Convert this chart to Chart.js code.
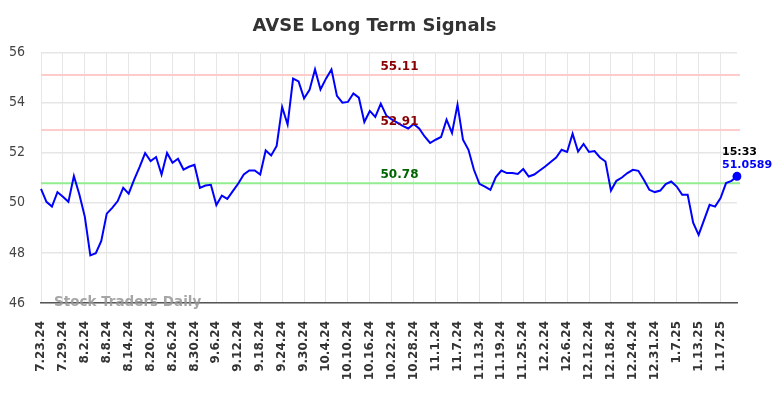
<!DOCTYPE html>
<html>
<head>
<meta charset="utf-8">
<script src="https://cdn.jsdelivr.net/npm/chart.js@4"></script>
<style>
  html, body { margin: 0; padding: 0; background: #ffffff; }
  #wrap { width: 784px; height: 398px; }
</style>
</head>
<body>
<div id="wrap"><canvas id="c" width="784" height="398"></canvas></div>
<script>
const chartTitle = "AVSE Long Term Signals";
const dates = [
  "7.23.24","7.24.24","7.25.24","7.26.24","7.29.24","7.30.24","7.31.24","8.1.24","8.2.24","8.5.24","8.6.24","8.7.24",
  "8.8.24","8.9.24","8.12.24","8.13.24","8.14.24","8.15.24","8.16.24","8.19.24","8.20.24","8.21.24","8.22.24","8.23.24",
  "8.26.24","8.27.24","8.28.24","8.29.24","8.30.24","9.3.24","9.4.24","9.5.24","9.6.24","9.9.24","9.10.24","9.11.24",
  "9.12.24","9.13.24","9.16.24","9.17.24","9.18.24","9.19.24","9.20.24","9.23.24","9.24.24","9.25.24","9.26.24","9.27.24",
  "9.30.24","10.1.24","10.2.24","10.3.24","10.4.24","10.7.24","10.8.24","10.9.24","10.10.24","10.11.24","10.14.24","10.15.24",
  "10.16.24","10.17.24","10.18.24","10.21.24","10.22.24","10.23.24","10.24.24","10.25.24","10.28.24","10.29.24","10.30.24","10.31.24",
  "11.1.24","11.4.24","11.5.24","11.6.24","11.7.24","11.8.24","11.11.24","11.12.24","11.13.24","11.14.24","11.15.24","11.18.24",
  "11.19.24","11.20.24","11.21.24","11.22.24","11.25.24","11.26.24","11.27.24","11.29.24","12.2.24","12.3.24","12.4.24","12.5.24",
  "12.6.24","12.9.24","12.10.24","12.11.24","12.12.24","12.13.24","12.16.24","12.17.24","12.18.24","12.19.24","12.20.24","12.23.24",
  "12.24.24","12.26.24","12.27.24","12.30.24","12.31.24","1.2.25","1.3.25","1.6.25","1.7.25","1.8.25","1.9.25","1.10.25",
  "1.13.25","1.14.25","1.15.25","1.16.25","1.17.25","1.21.25","1.22.25","1.23.25"
];
const prices = [
  50.56,50.04,49.85,50.43,50.24,50.04,51.07,50.33,49.44,47.90,47.99,48.48,
  49.57,49.80,50.07,50.60,50.37,50.93,51.44,51.99,51.67,51.83,51.13,51.99,
  51.60,51.76,51.33,51.44,51.52,50.60,50.69,50.72,49.91,50.29,50.16,50.47,
  50.77,51.13,51.29,51.29,51.13,52.09,51.89,52.27,53.83,53.13,54.96,54.85,
  54.17,54.51,55.33,54.53,54.96,55.33,54.27,54.00,54.03,54.37,54.20,53.23,
  53.67,53.43,53.96,53.49,53.33,53.20,53.07,52.97,53.15,52.97,52.65,52.39,
  52.52,52.63,53.32,52.79,53.92,52.52,52.12,51.32,50.76,50.65,50.52,51.03,
  51.29,51.19,51.19,51.15,51.35,51.05,51.13,51.29,51.45,51.63,51.81,52.12,
  52.03,52.76,52.05,52.35,52.03,52.07,51.81,51.65,50.49,50.88,51.01,51.19,
  51.32,51.28,50.92,50.52,50.43,50.49,50.75,50.85,50.65,50.32,50.32,49.21,
  48.72,49.32,49.92,49.85,50.19,50.79,50.88,51.0589
];
const tickLabels = [
  "7.23.24","7.29.24","8.2.24","8.8.24","8.14.24","8.20.24","8.26.24","8.30.24","9.6.24","9.12.24","9.18.24","9.24.24",
  "9.30.24","10.4.24","10.10.24","10.16.24","10.22.24","10.28.24","11.1.24","11.7.24","11.13.24","11.19.24","11.25.24","12.2.24",
  "12.6.24","12.12.24","12.18.24","12.24.24","12.31.24","1.7.25","1.13.25","1.17.25"
];
const yTicks = [46, 48, 50, 52, 54, 56];
const signalLevels = [55.11, 52.91, 50.78];
const signalLabels = ["55.11", "52.91", "50.78"];
const signalLineColors = ["#ffcccc", "#ffcccc", "#90ee90"];
const signalTextColors = ["#8b0000", "#8b0000", "#006400"];
const lastTime = "15:33";
const lastValueText = "51.0589";
const watermark = "Stock Traders Daily";

const overlayPlugin = {
  id: "overlay",
  afterLayout(chart) {
    if (chart.titleBlock) chart.titleBlock.left += 12;
  },
  beforeDatasetsDraw(chart) {
    const ctx = chart.ctx;
    const area = chart.chartArea;
    const y = chart.scales.y;
    ctx.save();
    signalLevels.forEach((v, i) => {
      const py = y.getPixelForValue(v);
      ctx.strokeStyle = signalLineColors[i];
      ctx.lineWidth = 2;
      ctx.beginPath();
      ctx.moveTo(area.left, py);
      ctx.lineTo(area.right + 3, py);
      ctx.stroke();
    });
    ctx.restore();
  },
  afterDatasetsDraw(chart) {
    const ctx = chart.ctx;
    const area = chart.chartArea;
    const x = chart.scales.x;
    const y = chart.scales.y;
    ctx.save();
    ctx.font = "bold 12px 'DejaVu Sans'";
    ctx.textAlign = "center";
    ctx.textBaseline = "middle";
    signalLevels.forEach((v, i) => {
      const py = y.getPixelForValue(v);
      ctx.fillStyle = signalTextColors[i];
      ctx.fillText(signalLabels[i], 399.5, py - 8);
    });
    const li = prices.length - 1;
    const px = x.getPixelForValue(li);
    const py = y.getPixelForValue(prices[li]);
    ctx.textAlign = "left";
    ctx.font = "bold 11px 'DejaVu Sans'";
    ctx.fillStyle = "#000000";
    ctx.fillText(lastTime, px - 15, py - 24);
    ctx.fillStyle = "#0000ff";
    ctx.fillText(lastValueText, px - 15, py - 11);
    ctx.font = "bold 13.5px 'DejaVu Sans'";
    ctx.fillStyle = "rgba(150,150,150,0.85)";
    ctx.fillText(watermark, 54, area.bottom - 1);
    ctx.restore();
  }
};

new Chart(document.getElementById("c"), {
  type: "line",
  data: {
    labels: dates,
    datasets: [{
      data: prices,
      borderColor: "#0000ff",
      backgroundColor: "#0000ff",
      borderWidth: 2,
      tension: 0,
      fill: false,
      pointRadius: prices.map((v, i) => i === prices.length - 1 ? 4.5 : 0),
      pointHoverRadius: 0,
      pointBackgroundColor: "#0000ff",
      pointBorderWidth: 0
    }]
  },
  options: {
    responsive: false,
    animation: false,
    devicePixelRatio: 1,
    layout: { padding: { left: 0, right: 47, top: 0, bottom: 19 } },
    plugins: {
      legend: { display: false },
      tooltip: { enabled: false },
      title: {
        display: true,
        text: chartTitle,
        color: "#333333",
        font: { family: "'DejaVu Sans'", size: 18, weight: "bold" },
        padding: { top: 16, bottom: 15 }
      }
    },
    scales: {
      x: {
        type: "category",
        offset: false,
        afterFit(scale) { scale.height = 76; },
        grid: { color: "#e6e6e6", lineWidth: 1, drawTicks: false },
        border: { display: true, color: "#555555", width: 1.5 },
        ticks: {
          autoSkip: false,
          minRotation: 90,
          maxRotation: 90,
          padding: 18,
          color: "#333333",
          font: { family: "'DejaVu Sans'", size: 12, weight: "bold" },
          callback: function(value, index) {
            const lab = dates[index];
            return tickLabels.includes(lab) ? lab : null;
          }
        }
      },
      y: {
        min: yTicks[0],
        max: yTicks[yTicks.length - 1],
        afterFit(scale) { scale.width = 41; },
        afterBuildTicks(scale) { scale.ticks = yTicks.map(v => ({ value: v })); },
        grid: { color: "#e6e6e6", lineWidth: 1.5, drawTicks: false },
        border: { display: false },
        ticks: {
          padding: 16,
          color: "#444444",
          font: { family: "'DejaVu Sans Condensed', 'DejaVu Sans'", size: 14 }
        }
      }
    }
  },
  plugins: [overlayPlugin]
});
</script>
</body>
</html>
